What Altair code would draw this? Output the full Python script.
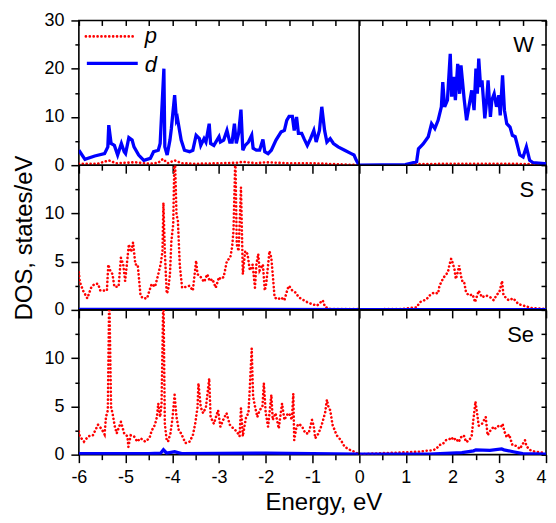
import altair as alt
import pandas as pd

# ---------------- data ----------------
# W panel, d states (blue)
w_d_E = [-6.0, -5.87, -5.66, -5.45, -5.38, -5.36, -5.31, -5.24, -5.17, -5.09, -5.03, -5.0, -4.93, -4.86, -4.82,
         -4.72, -4.61, -4.47, -4.40, -4.30, -4.26, -4.18, -4.16, -4.11, -4.05, -4.02, -3.95, -3.91, -3.89, -3.81,
         -3.74, -3.63, -3.56, -3.49, -3.42, -3.39, -3.32, -3.28, -3.21, -3.18, -3.11, -3.0,
         -2.97, -2.90, -2.83, -2.77, -2.72, -2.67, -2.63, -2.58, -2.53, -2.49, -2.44, -2.37, -2.30, -2.27, -2.20,
         -2.13, -2.06, -2.02, -1.95, -1.88, -1.78, -1.67, -1.60, -1.55, -1.50, -1.43, -1.39, -1.34, -1.30, -1.23,
         -1.18, -1.11, -1.04, -0.97, -0.92, -0.85, -0.80, -0.74, -0.69, -0.62, -0.55, -0.45, -0.31, -0.17, -0.11,
         -0.06, -0.02, 0.0,
         0.99, 1.23, 1.27, 1.37, 1.48, 1.55, 1.62, 1.69, 1.76, 1.79, 1.83, 1.89, 1.95, 1.98, 2.02, 2.06, 2.11,
         2.15, 2.18, 2.21, 2.25, 2.30, 2.35, 2.41, 2.46, 2.50, 2.53, 2.56, 2.60, 2.63, 2.69, 2.73, 2.76, 2.81,
         2.84, 2.89, 2.94, 2.99, 3.02, 3.07, 3.11, 3.16, 3.23, 3.28, 3.34, 3.37, 3.44, 3.51, 3.58, 3.65, 3.72,
         3.97, 4.0]
w_d_v = [3.1, 1.2, 1.9, 2.4, 3.8, 8.3, 4.5, 4.1, 2.1, 4.5, 2.8, 2.4, 5.7, 5.2, 3.8,
         2.1, 1.0, 1.4, 2.8, 3.1, 4.5, 20.0, 3.8, 2.1, 5.2, 7.6, 14.5, 9.3, 9.7, 5.2,
         3.1, 2.8, 3.1, 6.2, 5.5, 4.1, 5.5, 4.8, 8.6, 4.5, 4.1, 5.9,
         4.8, 5.2, 7.2, 4.8, 4.8, 8.6, 4.5, 6.6, 11.5, 3.1, 4.1, 4.8, 6.2, 3.5, 3.1,
         3.1, 5.3, 2.8, 2.4, 3.1, 5.2, 6.9, 7.2, 9.3, 10.1, 10.1, 7.2, 10.0, 6.6, 6.6,
         5.5, 4.1, 5.5, 7.2, 4.8, 7.2, 12.1, 7.2, 4.8, 5.5, 4.5, 3.8, 3.1, 2.4, 2.1,
         1.0, 0.3, 0.0,
         0.1, 0.7, 3.4, 4.4, 5.9, 8.6, 7.6, 9.3, 12.1, 17.2, 12.1, 13.5, 23.1, 14.2, 18.3, 13.5, 21.0,
         14.8, 20.7, 17.6, 13.5, 9.3, 12.1, 15.5, 11.4, 20.0, 14.8, 22.1, 16.2, 17.6, 9.7, 13.5, 17.6, 10.0,
         13.5, 14.8, 12.1, 14.5, 10.3, 18.6, 11.4, 8.6, 7.9, 6.2, 5.9, 4.8, 2.1, 1.7, 3.8, 1.0, 0.55,
         0.3, 0.3]

# W panel, p states (red)
w_p_E = [-6.0, -5.6, -5.36, -5.2, -5.0, -4.8, -4.5, -4.3, -4.2, -4.1, -3.95, -3.8, -3.5, -3.0, -2.6, -2.5,
         -2.2, -2.0, -1.5, -1.0, -0.5, -0.2, 0.0, 0.5, 1.0, 1.2, 2.0, 3.0, 4.0]
w_p_v = [0.3, 0.3, 1.0, 0.4, 0.5, 0.6, 0.3, 0.5, 1.3, 0.4, 1.0, 0.4, 0.3, 0.4, 0.5, 0.7,
         0.4, 0.6, 0.4, 0.4, 0.2, 0.1, 0.0, 0.0, 0.0, 0.2, 0.3, 0.3, 0.2]

# S panel, p states (red)
s_p_E = [-6.0, -5.98, -5.91, -5.82, -5.73, -5.66, -5.59, -5.54, -5.45, -5.40, -5.37, -5.33, -5.28, -5.24, -5.15,
         -5.10, -5.05, -5.01, -4.98, -4.93, -4.88, -4.84, -4.79, -4.74, -4.68, -4.63, -4.54, -4.49, -4.44, -4.37,
         -4.30, -4.25, -4.21, -4.19, -4.16, -4.12, -4.09, -4.05, -4.02, -3.98, -3.95, -3.91, -3.88, -3.84, -3.79,
         -3.70, -3.63, -3.56, -3.49, -3.46, -3.39, -3.32, -3.25, -3.20, -3.14, -3.07, -3.0,
         -2.97, -2.90, -2.83, -2.76, -2.72, -2.69, -2.65, -2.62, -2.58, -2.53, -2.51, -2.49, -2.44, -2.39, -2.34,
         -2.28, -2.23, -2.20, -2.16, -2.13, -2.06, -2.02, -1.99, -1.92, -1.88, -1.85, -1.81, -1.74, -1.67, -1.60,
         -1.53, -1.50, -1.43, -1.36, -1.29, -1.22, -1.11, -1.01, -0.90, -0.78, -0.73, -0.62, -0.38, -0.06,
         0.0, 0.95, 1.23, 1.30, 1.44, 1.51, 1.60, 1.69, 1.72, 1.79, 1.83, 1.90, 1.93, 1.97, 2.00, 2.04, 2.07,
         2.11, 2.14, 2.18, 2.22, 2.25, 2.29, 2.35, 2.43, 2.48, 2.56, 2.63, 2.72, 2.81, 2.88, 2.95, 3.0, 3.06,
         3.09, 3.20, 3.30, 3.41, 3.55, 3.69, 3.98]
s_p_v = [3.9, 2.9, 2.0, 1.2, 2.4, 2.7, 2.7, 2.0, 2.0, 2.0, 4.7, 4.1, 3.7, 2.4, 2.4,
         5.4, 4.7, 3.0, 4.4, 6.8, 6.0, 7.0, 4.7, 4.7, 1.5, 1.2, 1.2, 2.0, 2.7, 2.4,
         3.7, 4.7, 6.1, 11.1, 6.1, 1.7, 2.0, 3.7, 7.1, 8.9, 17.0, 9.9, 9.2, 4.7, 2.3,
         2.4, 2.5, 2.0, 5.1, 3.7, 3.4, 2.9, 3.7, 3.0, 3.2, 2.3, 3.4,
         3.2, 3.4, 5.1, 5.4, 6.5, 8.2, 16.0, 6.8, 6.1, 12.7, 8.2, 3.7, 6.1, 5.8, 4.1,
         4.7, 2.3, 4.7, 5.8, 4.1, 4.7, 2.0, 2.7, 6.1, 5.4, 3.7, 1.3, 1.1, 1.3, 1.0,
         2.2, 2.5, 2.0, 1.8, 1.3, 1.1, 0.8, 0.6, 0.45, 1.0, 0.3, 0.1, 0.1, 0.1,
         0.05, 0.1, 0.27, 0.8, 1.1, 1.5, 1.8, 1.7, 2.5, 3.2, 3.5, 3.9, 4.6, 5.3, 4.9, 4.2, 3.2,
         3.9, 4.6, 3.5, 2.8, 2.8, 1.8, 1.5, 1.6, 0.8, 2.0, 1.3, 1.5, 1.3, 1.0, 1.6, 1.8, 3.0,
         1.5, 1.0, 1.2, 0.6, 0.4, 0.2, 0.1]

# S panel, d states (blue)
s_d_E = [-6.0, -4.19, -3.0, 0.0, 1.0, 2.0, 4.0]
s_d_v = [0.05, 0.06, 0.05, 0.03, 0.02, 0.03, 0.03]

# Se panel, p states (red)
se_p_E = [-6.0, -5.98, -5.89, -5.80, -5.70, -5.59, -5.52, -5.45, -5.42, -5.38, -5.35, -5.31, -5.28, -5.23, -5.19,
          -5.10, -5.07, -5.03, -4.96, -4.94, -4.89, -4.82, -4.75, -4.68, -4.58, -4.49, -4.44, -4.37, -4.33, -4.30,
          -4.26, -4.23, -4.19, -4.16, -4.12, -4.09, -4.04, -4.0, -3.95, -3.91, -3.86, -3.81, -3.72, -3.63, -3.56,
          -3.51, -3.46, -3.44, -3.39, -3.34, -3.28, -3.21, -3.18, -3.11, -3.02, -2.97,
          -2.91, -2.84, -2.77, -2.69, -2.62, -2.56, -2.53, -2.49, -2.42, -2.37, -2.34, -2.30, -2.27, -2.23, -2.18,
          -2.13, -2.07, -2.04, -2.0, -1.95, -1.92, -1.88, -1.85, -1.79, -1.72, -1.69, -1.65, -1.60, -1.55, -1.50,
          -1.44, -1.41, -1.39, -1.34, -1.29, -1.22, -1.15, -1.08, -1.01, -0.97, -0.94, -0.87, -0.80, -0.73, -0.69,
          -0.66, -0.62, -0.57, -0.48, -0.39, -0.31, -0.20, -0.10, -0.03,
          0.0, 1.27, 1.44, 1.58, 1.65, 1.72, 1.79, 1.86, 1.93, 1.98, 2.02, 2.07, 2.13, 2.18, 2.24, 2.29, 2.36,
          2.41, 2.44, 2.49, 2.53, 2.56, 2.63, 2.71, 2.75, 2.81, 2.88, 2.92, 2.99, 3.04, 3.07, 3.11, 3.16, 3.21,
          3.28, 3.37, 3.44, 3.55, 3.58, 3.65, 3.76, 3.97]
se_p_v = [2.4, 1.9, 1.35, 1.9, 2.0, 3.1, 2.7, 2.1, 3.9, 4.6, 17.0, 4.9, 4.3, 2.9, 2.2,
          3.4, 2.9, 2.2, 1.9, 0.8, 2.0, 1.9, 1.35, 1.7, 1.35, 1.7, 2.5, 3.1, 3.9, 5.3,
          3.9, 5.3, 17.0, 3.2, 1.5, 1.35, 2.2, 3.6, 6.2, 3.9, 2.5, 2.2, 1.2, 1.35, 2.0,
          3.2, 4.9, 7.4, 4.9, 4.3, 4.9, 7.9, 3.9, 3.2, 4.6, 2.9,
          3.6, 4.3, 3.1, 2.7, 2.4, 1.9, 4.8, 1.9, 3.9, 4.3, 7.0, 11.0, 6.0, 5.0, 3.9,
          4.6, 5.0, 7.4, 4.3, 2.9, 4.3, 6.2, 3.6, 4.3, 2.7, 3.9, 5.3, 3.6, 4.1, 4.3,
          3.6, 6.3, 1.5, 2.9, 3.2, 2.9, 2.2, 2.2, 3.6, 2.9, 1.7, 2.2, 3.1, 4.3, 5.7,
          5.0, 4.6, 3.1, 2.0, 1.5, 0.8, 0.5, 0.3, 0.1,
          0.05, 0.3, 0.4, 0.45, 0.6, 1.0, 1.1, 1.5, 1.6, 1.8, 1.5, 1.7, 1.3, 1.8, 2.0, 1.3, 1.5,
          2.0, 3.4, 5.5, 4.1, 3.0, 3.2, 3.9, 2.0, 2.5, 2.9, 2.7, 3.0, 2.9, 3.2, 2.4, 1.8, 2.1,
          1.0, 0.9, 0.6, 1.5, 0.9, 0.5, 0.3, 0.2]

# Se panel, d states (blue)
se_d_E = [-6.0, -4.5, -4.25, -4.19, -4.12, -3.95, -3.8, -2.0, 0.0, 1.5, 2.2, 2.45, 2.5, 2.8, 3.05, 3.1, 3.3, 3.5, 4.0]
se_d_v = [0.1, 0.1, 0.15, 0.5, 0.15, 0.3, 0.1, 0.15, 0.05, 0.05, 0.2, 0.4, 0.5, 0.45, 0.6, 0.5, 0.3, 0.1, 0.05]

# tick positions / labels
X_TICKS = [-6, -5.5, -5, -4.5, -4, -3.5, -3, -2.5, -2, -1.5, -1, -0.5, 0, 0.5, 1, 1.5, 2, 2.5, 3, 3.5, 4]
Y_TICKS_W = [0, 5, 10, 15, 20, 25, 30]
Y_TICKS_X = [0, 2.5, 5, 7.5, 10, 12.5]
ZERO = [0.0]
PANEL_NAMES = ["W", "S", "Se"]
LEGEND_NAMES = ["p", "d"]

# ---------------- styling ----------------
W, H = 468, 145
RED, BLUE, BLACK = "#ff0000", "#0000ff", "#000000"
FONT = "Liberation Sans"

xscale = alt.Scale(domain=[-6, 4], nice=False, zero=False)


def major_test(step):
    return f"abs(datum.value / {step} - round(datum.value / {step})) < 0.001"


def panel(pE, pv, dE, dv, ymax, yticks, ystep, name, top=False, bottom=False, ytitle=None):
    dp = pd.DataFrame({"E": pE, "v": pv})
    dd = pd.DataFrame({"E": dE, "v": dv})
    yscale = alt.Scale(domain=[0, ymax], nice=False)

    xaxis_kw = dict(
        values=X_TICKS, labels=bottom, domain=False, grid=False,
        labelExpr=f"{major_test(1)} ? '' + datum.value : ''",
        labelAlign={"condition": {"test": "datum.value > 3.9", "value": "right"}, "value": "center"},
        tickSize={"condition": {"test": major_test(1), "value": 8}, "value": 5},
        labelFlush=False, labelOverlap=False, labelPadding=6,
    )
    if bottom:
        xaxis = alt.Axis(title="Energy, eV", titleX=245, titleY=36, **xaxis_kw)
    else:
        xaxis = alt.Axis(title=None, **xaxis_kw)

    yaxis_kw = dict(
        values=yticks, domain=False, grid=False,
        labelExpr=f"{major_test(ystep)} ? '' + datum.value : ''",
        tickSize={"condition": {"test": major_test(ystep), "value": 8}, "value": 4},
        labelFlush=False, labelOverlap=False, labelPadding=7, titlePadding=7,
    )
    if ytitle:
        yaxis = alt.Axis(title=ytitle, **yaxis_kw)
    else:
        yaxis = alt.Axis(title=None, **yaxis_kw)

    # inward ticks on right border
    yaxis_right = alt.Axis(orient="left", offset=-W, values=yticks, labels=False, domain=False,
                           grid=False, tickSize=5, title=None)

    p_line = alt.Chart(dp).mark_line(
        color=RED, strokeWidth=2.6, strokeDash=[0.1, 3.8], strokeCap="round", clip=True
    ).encode(
        x=alt.X("E:Q", scale=xscale, axis=xaxis),
        y=alt.Y("v:Q", scale=yscale, axis=yaxis),
    )

    if top:
        xaxis_top = alt.Axis(orient="bottom", offset=-H, values=X_TICKS, labels=False, domain=False,
                             grid=False, tickSize=5, title=None)
        dx = alt.X("E:Q", scale=xscale, axis=xaxis_top)
    else:
        dx = alt.X("E:Q", scale=xscale, axis=None)

    d_line = alt.Chart(dd).mark_line(color=BLUE, strokeWidth=3.3, clip=True).encode(
        x=dx,
        y=alt.Y("v:Q", scale=yscale, axis=yaxis_right),
    )

    zero_rule = alt.Chart(pd.DataFrame({"E": ZERO})).mark_rule(color=BLACK, strokeWidth=1.6).encode(
        x=alt.X("E:Q", scale=xscale, axis=None)
    )

    label = alt.Chart(pd.DataFrame({"t": [name]})).mark_text(
        font=FONT, fontSize=22, color=BLACK, align="right", baseline="alphabetic"
    ).encode(x=alt.value(W - 12), y=alt.value(32), text="t:N")

    layers = [p_line, d_line, zero_rule, label]

    if top:
        leg_p = alt.Chart(pd.DataFrame({"a": [0]})).mark_rule(
            color=RED, strokeWidth=2.6, strokeDash=[0.1, 3.8], strokeCap="round"
        ).encode(x=alt.value(7), x2=alt.value(57), y=alt.value(16))
        leg_d = alt.Chart(pd.DataFrame({"a": [0]})).mark_rule(color=BLUE, strokeWidth=3.3).encode(
            x=alt.value(8), x2=alt.value(59), y=alt.value(43))
        leg_t = alt.Chart(pd.DataFrame({"t": LEGEND_NAMES, "yy": [23, 52]})).mark_text(
            font=FONT, fontSize=22, fontStyle="italic", color=BLACK, align="left", baseline="alphabetic"
        ).encode(x=alt.value(66), y=alt.Y("yy:Q", scale=None), text="t:N")
        layers += [leg_p, leg_d, leg_t]

    return alt.layer(*layers).resolve_axis(x="independent", y="independent").properties(width=W, height=H)


top = panel(w_p_E, w_p_v, w_d_E, w_d_v, 30, Y_TICKS_W, 10, PANEL_NAMES[0], top=True)
mid = panel(s_p_E, s_p_v, s_d_E, s_d_v, 15, Y_TICKS_X, 5, PANEL_NAMES[1], ytitle="DOS, states/eV")
bot = panel(se_p_E, se_p_v, se_d_E, se_d_v, 15, Y_TICKS_X, 5, PANEL_NAMES[2], bottom=True)

chart = alt.vconcat(top, mid, bot, spacing=0, bounds="flush").configure_view(
    stroke=BLACK, strokeWidth=1.6
).configure_axis(
    labelFont=FONT, labelFontSize=18, labelColor=BLACK,
    titleFont=FONT, titleFontSize=24, titleColor=BLACK, titleFontWeight="normal",
    tickColor=BLACK, tickWidth=1.5,
).properties(
    padding={"left": 4, "top": 2, "right": 0, "bottom": -1}
)

chart.save("out.html", embed_options={"renderer": "svg", "actions": False})
